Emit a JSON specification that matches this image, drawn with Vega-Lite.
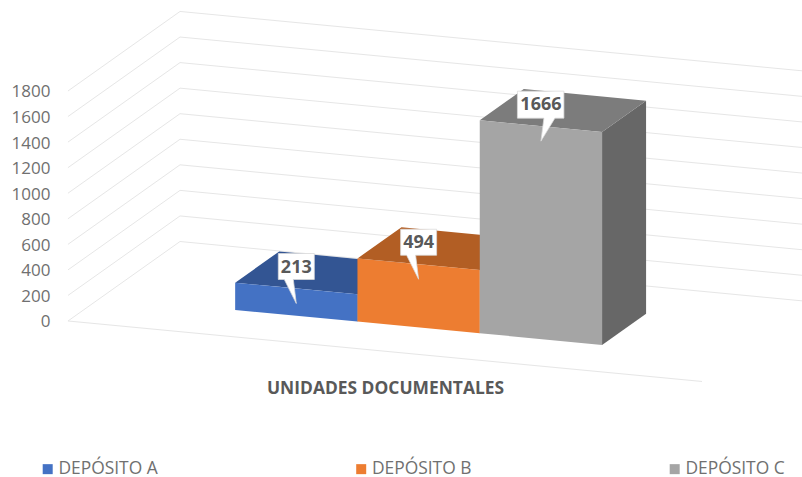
{
"$schema":"https://vega.github.io/schema/vega-lite/v6.json",
"width":802,"height":477,"padding":0,"autosize":"none","background":"white",
"config":{"font":"Open Sans","view":{"stroke":null}},
"datasets":{
"bars":[{"deposito":"DEPÓSITO A","valor":213,"i":0},{"deposito":"DEPÓSITO B","valor":494,"i":1},{"deposito":"DEPÓSITO C","valor":1666,"i":2}],
"niveles":[{"v":0},{"v":200},{"v":400},{"v":600},{"v":800},{"v":1000},{"v":1200},{"v":1400},{"v":1600},{"v":1800}]
},
"encoding":{
"x":{"field":"X","type":"quantitative","scale":{"domain":[-0.556,6.0016],"nice":false,"zero":false},
"axis":{"title":"UNIDADES DOCUMENTALES","titleFont":"Open Sans","titleFontSize":17.4,"titleFontWeight":"bold","titleColor":"#595959","titleX":385,"titleY":-89,"titleBaseline":"middle","titleAlign":"center","titleAnchor":null,"labels":false,"ticks":false,"domain":false,"grid":false}},
"y":{"field":"Y","type":"quantitative","scale":{"domain":[-1220.7,2511.7],"nice":false,"zero":false},
"axis":{"title":null,"format":"d","values":[0,200,400,600,800,1000,1200,1400,1600,1800],"offset":-50,"labelPadding":0,"labelOffset":1,"labelFont":"Open Sans","labelFontSize":17,"labelColor":"#707070","ticks":false,"domain":false,"grid":false,"labelOverlap":false,"labelFlush":false,"labelBound":false}}
},
"layer":[
{"data":{"name":"niveles"},
"transform":[{"calculate":"[[0,0],[0,1],[5.184,1]]","as":"p"},{"flatten":["p"]},{"calculate":"datum.p[0]+0.916*datum.p[1]","as":"X"},{"calculate":"datum.v-91.3*datum.p[0]+622*datum.p[1]","as":"Y"}],
"mark":{"type":"line","color":"#E6E6E6","strokeWidth":1,"clip":true},
"encoding":{"detail":{"field":"v","type":"quantitative"},"order":{"field":"X","type":"quantitative"}}},
{"data":{"name":"niveles"},
"transform":[{"filter":"datum.v==0"},{"calculate":"[0,5.184]","as":"a"},{"flatten":["a"]},{"calculate":"datum.a","as":"X"},{"calculate":"datum.v-91.3*datum.a","as":"Y"}],
"mark":{"type":"line","color":"#E6E6E6","strokeWidth":1,"clip":true}},
{"data":{"name":"bars"},
"transform":[{"calculate":"[0.3,0.693]","as":"t"},{"flatten":["t"]},{"calculate":"datum.i+2.092","as":"a"},{"calculate":"datum.a+0.916*datum.t","as":"X"},{"calculate":"datum.valor-91.3*datum.a+622*datum.t","as":"Y"},{"calculate":"-91.3*datum.a+622*datum.t","as":"Y2"}],
"mark":{"type":"area","clip":true},
"encoding":{"y2":{"field":"Y2"},"color":{"field":"deposito","type":"nominal","legend":null,"scale":{"domain":["DEPÓSITO A","DEPÓSITO B","DEPÓSITO C"],"range":["#2A4580","#9B4F1E","#676767"]}}}},
{"data":{"name":"bars"},
"transform":[{"calculate":"[[0,0.3,0,0.3],[0,0.693,0.36,0.3],[0.64,0.693,1,0.3],[1,0.693,1,0.693]]","as":"p"},{"flatten":["p"]},{"calculate":"datum.i+1.092","as":"a0"},{"calculate":"datum.a0+datum.p[0]+0.916*datum.p[1]","as":"X"},{"calculate":"datum.valor-91.3*(datum.a0+datum.p[0])+622*datum.p[1]","as":"Y"},{"calculate":"datum.valor-91.3*(datum.a0+datum.p[2])+622*datum.p[3]","as":"Y2"}],
"mark":{"type":"area","clip":true},
"encoding":{"y2":{"field":"Y2"},"color":{"field":"deposito","type":"nominal","legend":null,"scale":{"domain":["DEPÓSITO A","DEPÓSITO B","DEPÓSITO C"],"range":["#335593","#B25E24","#7C7C7C"]}}}},
{"data":{"name":"bars"},
"transform":[{"calculate":"[0,1]","as":"s"},{"flatten":["s"]},{"calculate":"datum.i+1.092+datum.s","as":"a"},{"calculate":"datum.a+0.916*0.3","as":"X"},{"calculate":"datum.valor-91.3*datum.a+622*0.3","as":"Y"},{"calculate":"-91.3*datum.a+622*0.3","as":"Y2"}],
"mark":{"type":"area","clip":true},
"encoding":{"y2":{"field":"Y2"},"color":{"field":"deposito","type":"nominal","scale":{"domain":["DEPÓSITO A","DEPÓSITO B","DEPÓSITO C"],"range":["#4472C4","#ED7D31","#A5A5A5"]},
"legend":{"title":null,"orient":"none","legendX":39,"legendY":460,"direction":"horizontal","columns":3,"columnPadding":194.5,"symbolType":"square","symbolSize":100,"symbolStrokeWidth":0,"labelFont":"Open Sans","labelFontSize":17.4,"labelColor":"#707070","labelOffset":2,"padding":0}}}},
{"data":{"name":"bars"},
"transform":[{"calculate":"datum.i+1.592","as":"a"},{"calculate":"datum.a+0.916*0.3","as":"X"},{"calculate":"datum.valor-91.3*datum.a+622*0.3","as":"Y"}],
"mark":{"type":"point","filled":true,"fill":"white","fillOpacity":1,"stroke":"#D9D9D9","strokeWidth":0.75,"strokeOpacity":1,"size":400,"yOffset":15},
"encoding":{"shape":{"field":"deposito","type":"nominal","legend":null,"scale":{"domain":["DEPÓSITO A","DEPÓSITO B","DEPÓSITO C"],"range":["M-1.8,-5L1.8,-5L1.8,-2.4L-0.3,-2.4L0,0L-1.2,-2.4L-1.8,-2.4Z","M-1.8,-5L1.8,-5L1.8,-2.4L-0.3,-2.4L0,0L-1.2,-2.4L-1.8,-2.4Z","M-2.35,-5L2.3,-5L2.3,-2.3L1.4,-2.3L0,0L0.3,-2.3L-2.35,-2.3Z"]}}}},
{"data":{"name":"bars"},
"transform":[{"calculate":"datum.i+1.592","as":"a"},{"calculate":"datum.a+0.916*0.3","as":"X"},{"calculate":"datum.valor-91.3*datum.a+622*0.3","as":"Y"}],
"mark":{"type":"text","font":"Open Sans","fontSize":18,"fontWeight":"bold","color":"#595959","align":"center","baseline":"middle","yOffset":-21},
"encoding":{"text":{"field":"valor","type":"quantitative"}}}
],
"resolve":{"scale":{"color":"independent"}}
}
